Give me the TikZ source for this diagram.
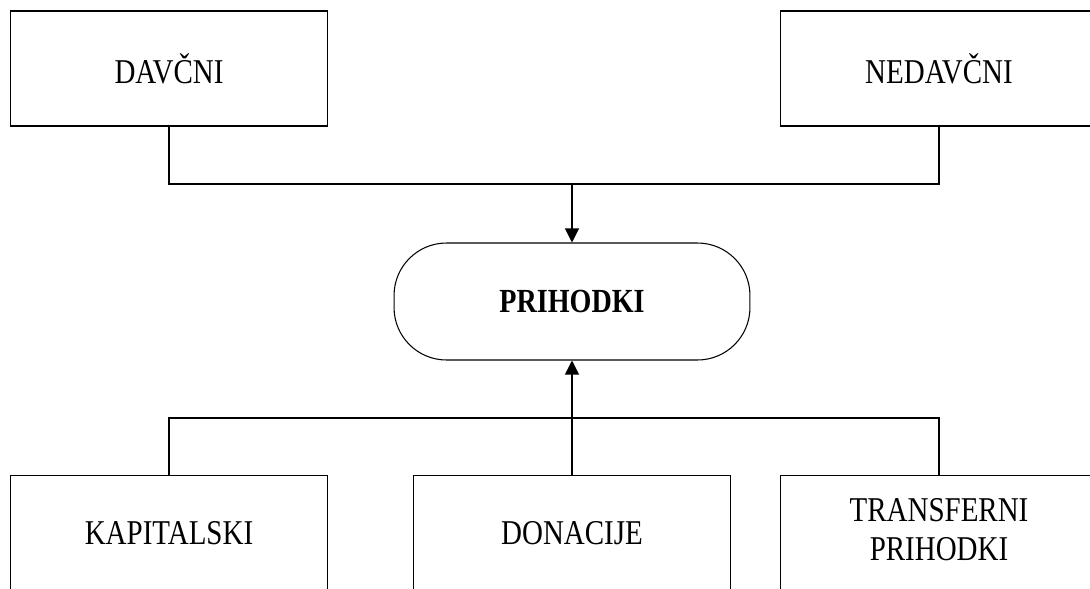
\documentclass[tikz,border=0pt]{standalone}
\usepackage{fontspec}
\setmainfont{Liberation Serif}
\usepackage{tikz}
\usetikzlibrary{positioning,arrows.meta}

\newcommand{\tall}[1]{\scalebox{1}[1.2]{#1}}

\tikzset{
    vrsta/.style={draw, line width=0.6pt, minimum width=6.36cm, minimum height=2.3cm,
        font=\fontsize{16.5}{18.5}\selectfont},
    skupaj/.style={draw, line width=0.6pt, rounded corners=1.05cm, minimum width=7.12cm,
        minimum height=2.34cm, font=\fontsize{16}{18}\selectfont\bfseries},
    povezava/.style={line width=0.6pt},
    puscica/.style={line width=0.6pt, -{Triangle[length=0.28cm,width=0.28cm]}}
}

\begin{document}
\begin{tikzpicture}[x=0.02cm, y=-0.02cm]
    \clip (0,0) rectangle (1090,589);

    % Zgornji vrsti prihodkov
    \node[vrsta] (davcni) at (169,68.5) {\tall{DAVČNI}};
    \node[vrsta] (nedavcni) at (939,68.5) {\tall{NEDAVČNI}};

    % Skupni prihodki
    \node[skupaj] (prihodki) at (572,301.5) {\tall{PRIHODKI}};

    % Spodnje vrste prihodkov
    \node[vrsta] (kapitalski) at (169,533) {\tall{KAPITALSKI}};
    \node[vrsta] (donacije) at (572,533) {\tall{DONACIJE}};
    \node[vrsta] (transferni) at (939,533)
        {\tall{\begin{tabular}{@{}c@{}}TRANSFERNI\\PRIHODKI\end{tabular}}};

    % Povezave
    \coordinate (zgoraj) at (572,184);
    \coordinate (spodaj) at (572,418);
    \draw[povezava] (davcni.south) |- (zgoraj) -| (nedavcni.south);
    \draw[puscica] (zgoraj) -- (prihodki.north);
    \draw[povezava] (kapitalski.north) |- (spodaj) -| (transferni.north);
    \draw[puscica] (donacije.north) -- (prihodki.south);
\end{tikzpicture}
\end{document}
